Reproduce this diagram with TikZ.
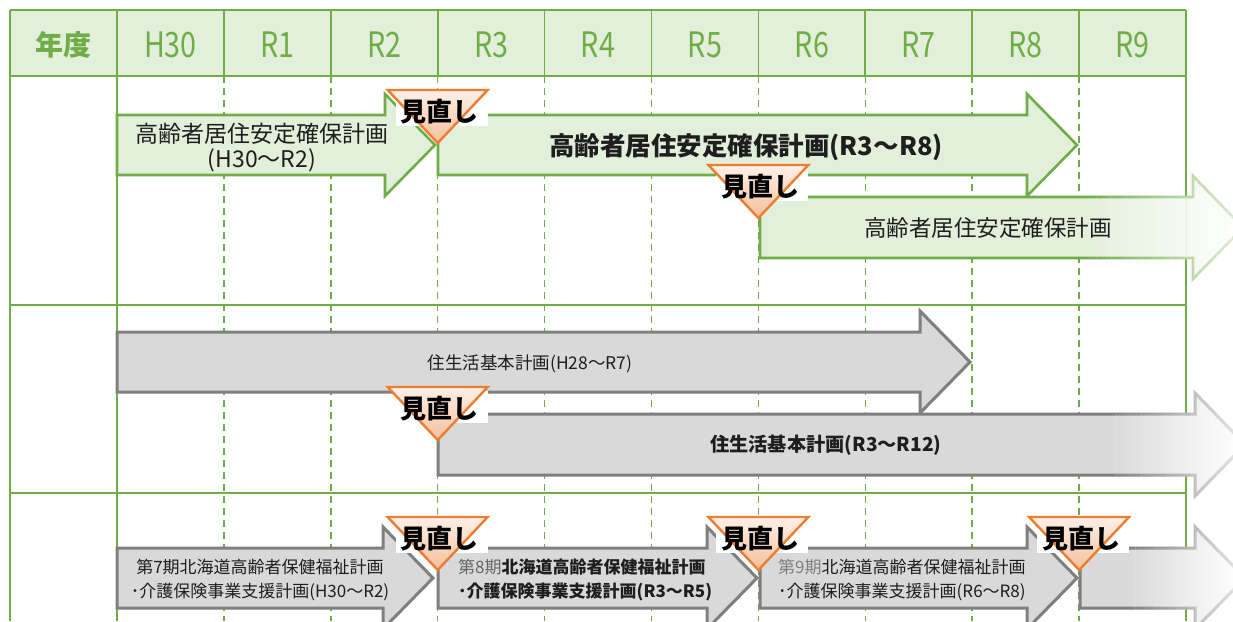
\documentclass[tikz,border=0pt]{standalone}
\usepackage{fontspec}
\newfontfamily\jp{Noto Sans CJK JP}
\newfontfamily\jpc{Noto Sans CJK JP}[FakeStretch=0.82]
\definecolor{grline}{RGB}{112,173,71}
\definecolor{hdrfill}{RGB}{226,239,218}
\definecolor{garrfill}{RGB}{226,239,218}
\definecolor{garrdraw}{RGB}{112,173,71}
\definecolor{gyfill}{RGB}{217,217,217}
\definecolor{gydraw}{RGB}{127,127,127}
\definecolor{orgdraw}{RGB}{237,125,49}
\definecolor{orgtop}{RGB}{253,240,232}
\definecolor{orgbot}{RGB}{246,192,155}
\definecolor{txt}{RGB}{30,30,30}
% arrow outline: x0, x-head, y-top, y-bottom
\newcommand\arrp[4]{(#1,#3) -- (#2,#3) -- (#2,#3-21) -- (#2+50,{(#3+#4)/2}) -- (#2,#4+21) -- (#2,#4) -- (#1,#4) -- cycle}
% fading arrow: x0,xh,yt,yb,fill,draw,fade start,fade end,line width
\newcommand\fadearr[9]{%
  \begin{scope}
    \clip (#1-5,0) rectangle (#7,700);
    \filldraw[fill=#5,draw=#6,line width=#9,line join=miter] \arrp{#1}{#2}{#3}{#4};
  \end{scope}
  \foreach \i in {0,...,39}{%
    \pgfmathsetmacro\xa{#7+(#8-#7)*\i/40}%
    \pgfmathsetmacro\xb{#7+(#8-#7)*(\i+1)/40+0.4}%
    \pgfmathtruncatemacro\pf{100-95*(\i+0.5)/40}%
    \pgfmathtruncatemacro\pd{100-75*(\i+0.5)/40}%
    \begin{scope}
      \clip (\xa,0) rectangle (\xb,700);
      \filldraw[fill=#5!\pf!white,draw=#6!\pd!white,line width=#9,line join=miter] \arrp{#1}{#2}{#3}{#4};
    \end{scope}}
  \begin{scope}
    \clip (#8,0) rectangle (1300,700);
    \filldraw[fill=#5!5!white,draw=#6!25!white,line width=#9,line join=miter] \arrp{#1}{#2}{#3}{#4};
  \end{scope}}
% review marker: name, column x, tip y
\newcommand\review[3]{%
  \fill[white] (#2-42,#3-49) rectangle (#2+50,#3-17);
  \draw[orgdraw,line width=2.4pt,line join=miter,top color=orgtop,bottom color=orgbot]
    (#2-50,#3-53) -- (#2+50,#3-53) -- (#2,#3) -- cycle;
  \node[mtext] (#1) at (#2+2,#3-31) {見直し};}
\begin{document}
\begin{tikzpicture}[x=1pt,y=-1pt,
  grid/.style={grline,line width=1.7pt},
  gdash/.style={grline,line width=1.5pt,dash pattern=on 7pt off 5pt},
  grarrow/.style={fill=garrfill,draw=garrdraw,line width=2.6pt,line join=miter},
  gyarrow/.style={fill=gyfill,draw=gydraw,line width=3pt,line join=miter},
  hdr/.style={text=grline,inner sep=0pt,font=\jpc\fontsize{35}{35}\selectfont},
  mtext/.style={text=black,inner sep=0pt,font=\jp\bfseries\fontsize{26}{26}\selectfont},
  lab/.style={text=txt,inner sep=0pt,align=center}]
\useasboundingbox (0,0) rectangle (1233,621);
\fill[white] (0,0) rectangle (1233,621);
% header
\fill[hdrfill] (10,10) rectangle (1186,76);
\foreach \k in {1,...,9}{
  \draw[grid] ({117+106.9*\k},10) -- ({117+106.9*\k},76);
  \draw[gdash] ({117+106.9*\k},76) -- ({117+106.9*\k},621);
}
\foreach \yy in {10,76,305,493}{\draw[grid] (10,\yy) -- (1186,\yy);}
\foreach \xx in {10,117,1186}{\draw[grid] (\xx,10) -- (\xx,621);}
\node[text=grline,inner sep=0pt,font=\jp\bfseries\fontsize{28}{28}\selectfont] (h0) at (63,45) {年度};
\foreach \lbl [count=\k from 0] in {H30,R1,R2,R3,R4,R5,R6,R7,R8,R9}{
  \node[hdr] (h\lbl) at ({117+106.9*(\k+0.5)},45) {\lbl};
}
% row 1: green arrows
\filldraw[grarrow] \arrp{117}{385}{115}{175};
\filldraw[grarrow] \arrp{438}{1027}{115}{175};
\fadearr{760}{1193}{197}{258}{garrfill}{garrdraw}{1085}{1235}{2.6pt}
\node[lab,font=\jp\fontsize{23}{25}\selectfont] (t1) at (262,148) {高齢者居住安定確保計画\\(H30〜R2)};
\node[lab,font=\jp\bfseries\fontsize{25.5}{25}\selectfont] (t2) at (746,147) {高齢者居住安定確保計画(R3〜R8)};
\node[lab,font=\jp\fontsize{22.5}{25}\selectfont] (t3) at (988,228) {高齢者居住安定確保計画};
% row 2: grey arrows
\filldraw[gyarrow] \arrp{117}{920}{332}{392};
\fadearr{438}{1195}{414}{475}{gyfill}{gydraw}{1110}{1235}{3pt}
\node[lab,font=\jp\fontsize{17.5}{20}\selectfont] (t4) at (530,364) {住生活基本計画(H28〜R7)};
\node[lab,font=\jp\bfseries\fontsize{19.2}{20}\selectfont] (t5) at (826,445) {住生活基本計画(R3〜R12)};
% row 3: grey arrows
\filldraw[gyarrow] \arrp{117}{383}{548}{608};
\filldraw[gyarrow] \arrp{438}{707}{548}{608};
\filldraw[gyarrow] \arrp{760}{1027}{548}{608};
\fadearr{1080}{1195}{548}{608}{gyfill}{gydraw}{1130}{1235}{3pt}
\node[lab,font=\jp\fontsize{17}{24}\selectfont] (t6) at (260,580) {第7期北海道高齢者保健福祉計画\\･介護保険事業支援計画(H30〜R2)};
\node[lab,anchor=west,align=left,font=\jp\bfseries\fontsize{17}{24}\selectfont] (t7) at (458,580) {{\mdseries\color{black!60}第8期}北海道高齢者保健福祉計画\\･介護保険事業支援計画(R3〜R5)};
\node[lab,anchor=west,align=left,font=\jp\fontsize{17}{24}\selectfont] (t8) at (778,580) {{\color{black!50}第9期}北海道高齢者保健福祉計画\\･介護保険事業支援計画(R6〜R8)};
% review markers
\review{m1}{437.7}{143}
\review{m2}{758.4}{218}
\review{m3}{437.7}{440}
\review{m4}{437.7}{570}
\review{m5}{758.4}{570}
\review{m6}{1079.1}{570}
\end{tikzpicture}
\end{document}
